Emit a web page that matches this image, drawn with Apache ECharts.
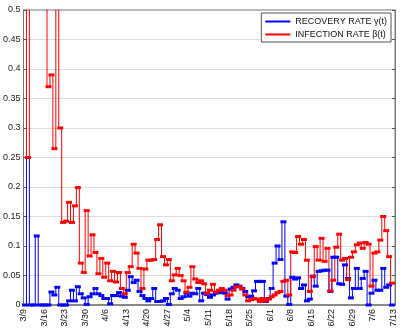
<!DOCTYPE html>
<html>
<head>
<meta charset="utf-8">
<script src="https://cdn.jsdelivr.net/npm/echarts@6/dist/echarts.min.js"></script>
<style>
  html, body { margin: 0; padding: 0; background: #fff; }
  #chart { width: 405px; height: 330px; }
</style>
</head>
<body>
<div id="chart"></div>
<script>
// weekly tick labels, one every 7 days starting 3/9 (day 0)
const dateLabels = ['3/9','3/16','3/23','3/30','4/6','4/13','4/20','4/27','5/4','5/11',
  '5/18','5/25','6/1','6/8','6/15','6/22','6/29','7/6','7/13'];

// daily recovery rate gamma(t), day 0 = 3/9
const recovery = [0, 0.25, 0, 0, 0.117, 0, 0, 0, 0, 0.022,
  0.017, 0.030, 0, 0, 0, 0.007, 0.025, 0.007, 0.031, 0.019,
  0.012, 0.001, 0.014, 0.019, 0.028, 0.019, 0.016, 0.011, 0.011, 0.002,
  0.016, 0.016, 0.021, 0.015, 0.013, 0.025, 0.048, 0.038, 0.042, 0.023,
  0.016, 0.011, 0.007, 0.011, 0.028, 0.006, 0.006, 0.007, 0.011, 0.001,
  0.019, 0.028, 0.025, 0.011, 0.014, 0.020, 0.015, 0.020, 0.019, 0.028,
  0.007, 0.020, 0.018, 0.013, 0.017, 0.020, 0.023, 0.021, 0.020, 0.010,
  0.027, 0.030, 0.034, 0.032, 0.028, 0.023, 0.014, 0.015, 0.024, 0.040,
  0.040, 0.040, 0.006, 0.011, 0.028, 0.071, 0.100, 0.077, 0.141, 0.015,
  0.001, 0.047, 0.044, 0.046, 0.028, 0.034, 0.007, 0.010, 0.049, 0.032,
  0.057, 0.058, 0.059, 0.059, 0.023, 0.081, 0.081, 0.036, 0.035, 0.068,
  0.045, 0.012, 0.028, 0.062, 0.028, 0.045, 0.057, 0.0, 0.020, 0.042,
  0.025, 0.025, 0.062, 0.030, 0.034, 0.0];

// daily infection rate beta(t)
const infection = [0.9, 0.25, 0.9, 0.85, 0.8, 0.75, 0.7, 0.65, 0.37, 0.39,
  0.265, 0.6, 0.30, 0.14, 0.142, 0.174, 0.14, 0.168, 0.199, 0.071,
  0.055, 0.16, 0.083, 0.119, 0.089, 0.053, 0.079, 0.047, 0.071, 0.041,
  0.057, 0.039, 0.055, 0.028, 0.019, 0.055, 0.065, 0.103, 0.088, 0.062,
  0.028, 0.061, 0.076, 0.076, 0.077, 0.111, 0.136, 0.082, 0.068, 0.077,
  0.041, 0.051, 0.062, 0.050, 0.041, 0.022, 0.030, 0.065, 0.044, 0.038,
  0.041, 0.036, 0.020, 0.025, 0.035, 0.022, 0.025, 0.028, 0.025, 0.016,
  0.017, 0.025, 0.031, 0.031, 0.027, 0.017, 0.007, 0.009, 0.011, 0.010,
  0.006, 0.011, 0.007, 0.010, 0.014, 0.017, 0.021, 0.023, 0.040, 0.042,
  0.017, 0.090, 0.089, 0.116, 0.103, 0.111, 0.076, 0.023, 0.048, 0.099,
  0.076, 0.113, 0.074, 0.096, 0.024, 0.042, 0.098, 0.12, 0.076, 0.079,
  0.043, 0.081, 0.09, 0.102, 0.105, 0.096, 0.106, 0.103, 0.032, 0.088,
  0.09, 0.11, 0.15, 0.126, 0.082, 0.037];

// stairs like matlab: each value held for one day, markers on every corner
function stairs(arr) {
  let pts = [];
  for (let i = 0; i < arr.length; i++) {
    pts.push([i, arr[i]]);
    pts.push([i + 1, arr[i]]);
  }
  return pts;
}

let myChart = echarts.init(document.getElementById('chart'));
const font = 'Liberation Sans, Arial, Helvetica, sans-serif';

myChart.setOption({
  animation: false,
  textStyle: { fontFamily: font },
  grid: {
    left: 21, right: 10, top: 10, bottom: 25,
    show: true, borderColor: '#777', borderWidth: 1
  },
  legend: {
    orient: 'vertical',
    right: 14,
    top: 13,
    itemWidth: 25,
    itemHeight: 2,
    itemGap: 4,
    padding: [4, 4, 3, 4],
    borderColor: '#555',
    borderWidth: 1,
    backgroundColor: '#fff',
    textStyle: { fontSize: 9, color: '#111', fontFamily: font },
    data: [
      { name: 'RECOVERY RATE γ(t)', icon: 'rect' },
      { name: 'INFECTION RATE β(t)', icon: 'rect' }
    ]
  },
  xAxis: {
    type: 'value',
    min: 0,
    max: 126.5,
    interval: 7,
    axisLine: { show: true, lineStyle: { color: '#888', width: 2 } },
    axisTick: { show: false },
    splitLine: { show: false },
    axisLabel: {
      rotate: 90,
      fontSize: 9,
      color: '#111',
      margin: 4,
      formatter: function (v) {
        if (v % 7 !== 0) return '';
        return dateLabels[v / 7] || '';
      }
    }
  },
  yAxis: [{
    type: 'value',
    min: 0,
    max: 0.5,
    interval: 0.05,
    axisLine: { show: true, lineStyle: { color: '#777' } },
    axisTick: { show: true, inside: true, length: 3, lineStyle: { color: '#555' } },
    splitLine: { show: true, lineStyle: { color: '#bbb', type: 'dotted' } },
    axisLabel: { fontSize: 9, color: '#222', margin: 3 }
  }, {
    type: 'value',
    position: 'right',
    min: 0,
    max: 0.5,
    interval: 0.05,
    axisLine: { show: true, lineStyle: { color: '#777' } },
    axisTick: { show: true, inside: true, length: 3, lineStyle: { color: '#555' } },
    splitLine: { show: false },
    axisLabel: { show: false }
  }],
  series: [
    {
      name: 'RECOVERY RATE γ(t)',
      type: 'line',
      data: stairs(recovery),
      symbol: 'rect',
      symbolSize: 3,
      showAllSymbol: true,
      clip: true,
      color: '#0000ff',
      lineStyle: { width: 1, color: '#0000ff' },
      itemStyle: { color: '#0000ff' }
    },
    {
      name: 'INFECTION RATE β(t)',
      type: 'line',
      data: stairs(infection),
      symbol: 'rect',
      symbolSize: 3,
      showAllSymbol: true,
      clip: true,
      color: '#ff0000',
      lineStyle: { width: 1, color: '#ff0000' },
      itemStyle: { color: '#ff0000' }
    }
  ]
});

window.addEventListener('resize', function () {
  myChart.resize();
});
</script>
</body>
</html>
